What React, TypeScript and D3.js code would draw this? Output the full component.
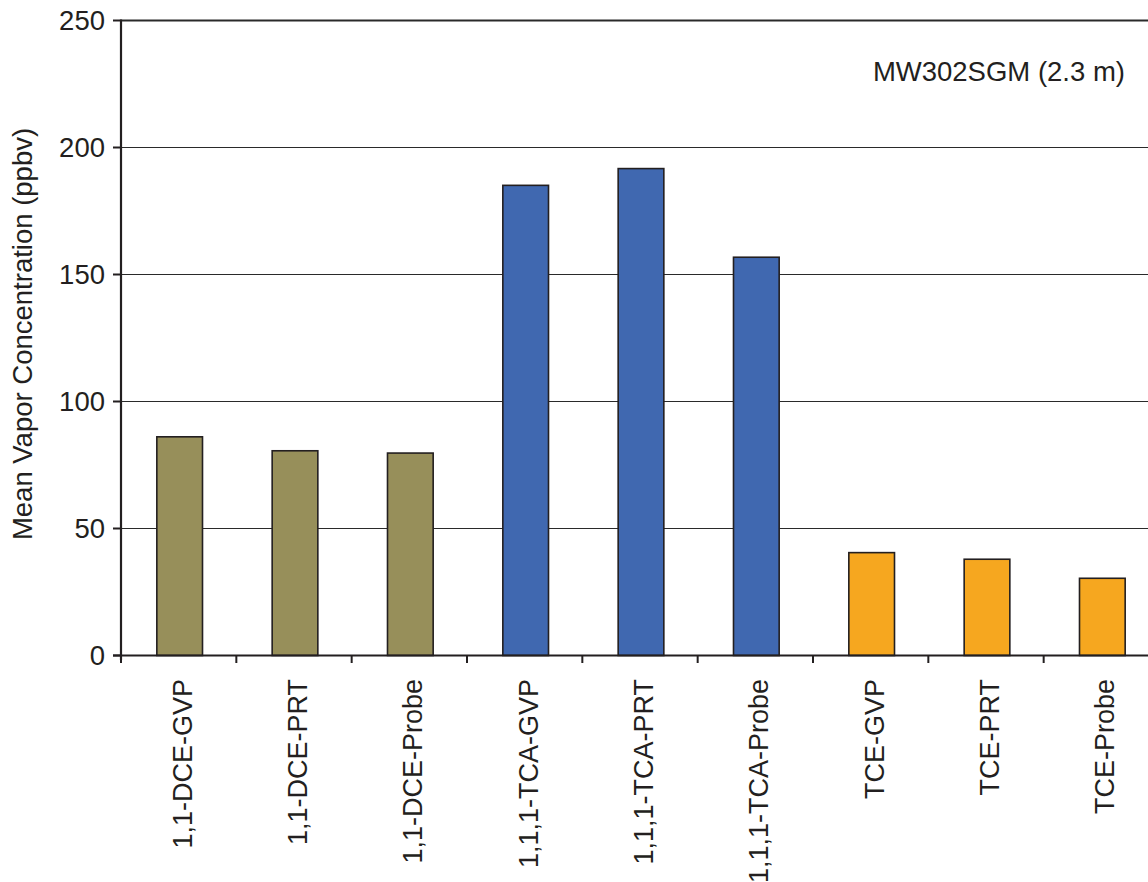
import React from 'react';
import * as d3 from 'd3';

const categories = [
  '1,1-DCE-GVP', '1,1-DCE-PRT', '1,1-DCE-Probe',
  '1,1,1-TCA-GVP', '1,1,1-TCA-PRT', '1,1,1-TCA-Probe',
  'TCE-GVP', 'TCE-PRT', 'TCE-Probe',
];
const values = [86.1, 80.6, 79.7, 185.1, 191.7, 156.8, 40.5, 37.9, 30.4];
const groups = ['DCE', 'DCE', 'DCE', 'TCA', 'TCA', 'TCA', 'TCE', 'TCE', 'TCE'];
const yTicks = [0, 50, 100, 150, 200, 250];

const groupColor: Record<string, string> = {
  DCE: '#978f5a',
  TCA: '#4068b0',
  TCE: '#f6a71f',
};

const W = 1148;
const H = 882;
const font = '"Liberation Sans", Arial, Helvetica, sans-serif';

const App: React.FC = () => {
  const x = d3.scaleBand<string>().domain(categories).range([121, 1159]).padding(0);
  const y = d3.scaleLinear([0, 250], [655.5, 20.5]);
  const barW = x.bandwidth() * 0.396;

  return (
    <svg width={W} height={H} style={{ position: 'absolute', left: 0, top: 0 }} fontFamily={font}>
      <rect width={W} height={H} fill="#fff" />

      {/* gridlines + y ticks */}
      {yTicks.map((t) => (
        <g key={t}>
          {t > 0 && (
            <line
              x1={121} x2={W} y1={y(t)} y2={y(t)}
              stroke="#2a2a2a" strokeWidth={t === 250 ? 2 : 1.1}
            />
          )}
          <line x1={113} x2={121} y1={y(t)} y2={y(t)} stroke="#231f20" strokeWidth={2} />
          <text
            x={105} y={y(t)} textAnchor="end" dominantBaseline="central"
            fontSize={27.5} fill="#231f20"
          >
            {t}
          </text>
        </g>
      ))}

      {/* bars */}
      {categories.map((c, i) => (
        <rect
          key={c}
          x={(x(c) as number) + (x.bandwidth() - barW) / 2 + 1}
          y={y(values[i])}
          width={barW}
          height={y(0) - y(values[i])}
          fill={groupColor[groups[i]]}
          stroke="#231f20"
          strokeWidth={1.6}
        />
      ))}

      {/* axes */}
      <line x1={121} x2={121} y1={19.5} y2={660} stroke="#231f20" strokeWidth={2.2} />
      <line x1={113} x2={W} y1={y(0)} y2={y(0)} stroke="#231f20" strokeWidth={2.2} />
      {categories.map((c) => (
        <line
          key={'t' + c}
          x1={x(c)} x2={x(c)} y1={y(0)} y2={663}
          stroke="#231f20" strokeWidth={2}
        />
      ))}

      {/* x labels */}
      {categories.map((c) => {
        const cx = (x(c) as number) + x.bandwidth() / 2 + 4;
        return (
          <text
            key={'l' + c}
            transform={`translate(${cx},679) rotate(-90)`}
            textAnchor="end" dominantBaseline="central"
            fontSize={27} fill="#231f20"
          >
            {c}
          </text>
        );
      })}

      {/* y label */}
      <text
        transform="translate(22,334) rotate(-90)"
        textAnchor="middle" dominantBaseline="central"
        fontSize={27.5} fill="#231f20"
      >
        Mean Vapor Concentration (ppbv)
      </text>

      <text x={1125} y={71} textAnchor="end" dominantBaseline="central" fontSize={27.5} fill="#231f20">
        MW302SGM (2.3 m)
      </text>
    </svg>
  );
};

export default App;
